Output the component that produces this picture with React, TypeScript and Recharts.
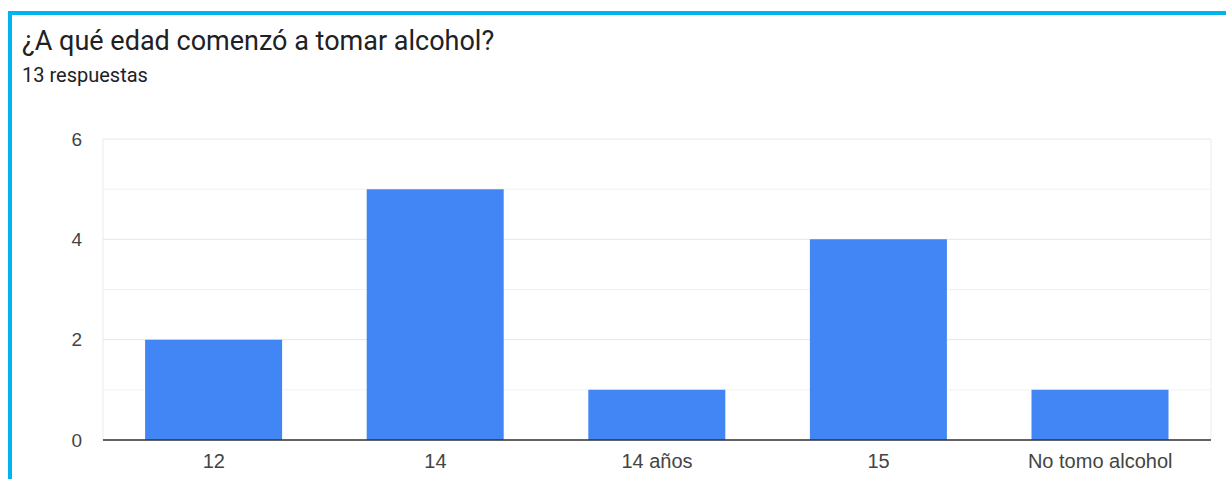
import React from "react";
import { BarChart, Bar, XAxis, YAxis, CartesianGrid } from "recharts";

const categories = ["12", "14", "14 años", "15", "No tomo alcohol"];
const counts = [2, 5, 1, 4, 1];
const yLabels = [0, 2, 4, 6];
const gridTicks = [0, 1, 2, 3, 4, 5, 6];

const data = categories.map((c, i) => ({ name: c, value: counts[i] }));

const gridLine = (props: any) => (
  <line
    key={props.key}
    x1={props.x1}
    y1={props.y1}
    x2={props.x2}
    y2={props.y2}
    stroke={props.index % 2 === 0 ? "#e6e6e6" : "#f2f2f2"}
    strokeWidth={1}
    fill="none"
  />
);

export default function App() {
  return (
    <div style={{ position: "absolute", left: 0, top: 0, width: 1226, height: 479, background: "#fff", overflow: "hidden" }}>
      <div style={{ position: "absolute", left: 8, top: 11, right: 0, height: 4, background: "#00b4f0" }} />
      <div style={{ position: "absolute", left: 8, top: 11, bottom: 0, width: 4, background: "#00b4f0" }} />
      <div style={{ position: "absolute", left: 22, top: 25, fontFamily: "Roboto, sans-serif", fontSize: 27, lineHeight: "32px", color: "#202124", whiteSpace: "nowrap" }}>
        ¿A qué edad comenzó a tomar alcohol?
      </div>
      <div style={{ position: "absolute", left: 22, top: 63, fontFamily: "Roboto, sans-serif", fontSize: 20, lineHeight: "24px", color: "#202124", whiteSpace: "nowrap" }}>
        13 respuestas
      </div>
      <div style={{ position: "absolute", left: 0, top: 0 }}>
        <BarChart width={1226} height={479} data={data} margin={{ top: 139, right: 15, bottom: 0, left: 0 }} barCategoryGap="19%">
          <CartesianGrid horizontal={false} vertical={true} stroke="#ebebeb"
            verticalCoordinatesGenerator={({ offset }: any) => [offset.left, offset.left + offset.width]} />
          <CartesianGrid vertical={false} horizontal={gridLine} />
          <XAxis dataKey="name" height={39} tickLine={false} axisLine={{ stroke: "#333", strokeWidth: 1.5 }}
            tick={{ fill: "#444", fontSize: 20, fontFamily: "'Liberation Sans', Arial, sans-serif" }} tickMargin={8} interval={0} />
          <YAxis width={103} domain={[0, 6]} ticks={gridTicks} interval={0} tickLine={false} axisLine={false}
            tickFormatter={(v: number) => (yLabels.includes(v) ? String(v) : "")}
            tick={{ fill: "#444", fontSize: 19, fontFamily: "'Liberation Sans', Arial, sans-serif" }} tickMargin={15} />
          <Bar dataKey="value" fill="#4285f4" isAnimationActive={false} />
        </BarChart>
      </div>
    </div>
  );
}
